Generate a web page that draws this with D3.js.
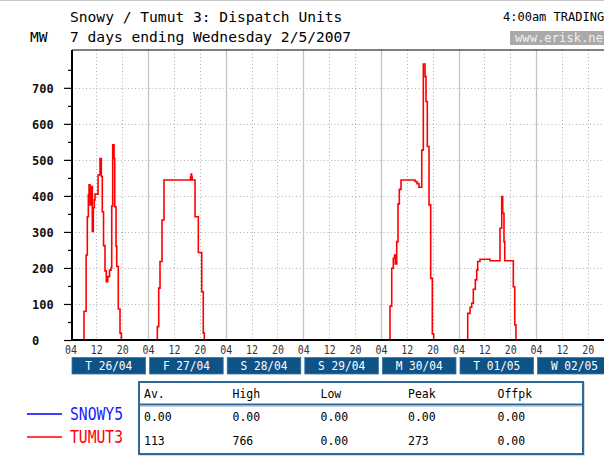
<!DOCTYPE html>
<html>
<head>
<meta charset="utf-8">
<script src="https://cdn.jsdelivr.net/npm/d3@7"></script>
<style>
  body { margin: 0; background: #fff; }
  svg { display: block; }
  text { font-family: "DejaVu Sans Mono", monospace; }
</style>
</head>
<body>
<svg width="604" height="460"></svg>
<script>
// half-hourly-ish dispatch readings, MW
const tumut3 = [
  ['26/04 04:00', 0],
  ['26/04 08:11', 80], ['26/04 08:50', 236], ['26/04 09:12', 342], ['26/04 09:31', 403],
  ['26/04 09:44', 431], ['26/04 10:02', 375], ['26/04 10:15', 420], ['26/04 10:33', 426],
  ['26/04 10:45', 301], ['26/04 11:03', 367], ['26/04 11:22', 389], ['26/04 11:35', 405],
  ['26/04 12:31', 458], ['26/04 13:08', 504], ['26/04 13:32', 454], ['26/04 13:50', 356],
  ['26/04 14:13', 262], ['26/04 14:40', 192], ['26/04 15:04', 162], ['26/04 15:32', 176],
  ['26/04 16:04', 194], ['26/04 16:32', 200], ['26/04 16:45', 372], ['26/04 17:03', 542],
  ['26/04 17:28', 504], ['26/04 17:41', 370], ['26/04 18:05', 260], ['26/04 18:18', 204],
  ['26/04 18:47', 86], ['26/04 19:19', 19], ['26/04 19:43', 0],
  ['27/04 06:51', 37], ['27/04 07:17', 144], ['27/04 07:41', 218], ['27/04 08:18', 333],
  ['27/04 08:55', 444], ['27/04 17:08', 452], ['27/04 17:18', 461], ['27/04 17:28', 452],
  ['27/04 17:38', 444], ['27/04 18:31', 342], ['27/04 19:32', 243], ['27/04 20:35', 134],
  ['27/04 21:04', 19], ['27/04 21:23', 0],
  ['30/04 06:49', 94], ['30/04 07:21', 199], ['30/04 07:50', 227], ['30/04 08:13', 236],
  ['30/04 08:27', 211], ['30/04 08:53', 273], ['30/04 09:18', 378], ['30/04 09:42', 418],
  ['30/04 10:13', 444], ['30/04 14:33', 440], ['30/04 15:10', 434], ['30/04 15:46', 424],
  ['30/04 16:38', 527], ['30/04 17:07', 766], ['30/04 17:39', 731], ['30/04 17:57', 662],
  ['30/04 18:21', 537], ['30/04 18:53', 375], ['30/04 19:24', 171], ['30/04 19:54', 17],
  ['30/04 20:20', 0],
  ['01/05 06:51', 74], ['01/05 07:34', 91], ['01/05 08:05', 102], ['01/05 08:35', 141],
  ['01/05 09:12', 167], ['01/05 09:38', 194], ['01/05 09:56', 218], ['01/05 10:39', 224],
  ['01/05 13:45', 220], ['01/05 16:50', 310], ['01/05 17:22', 398], ['01/05 17:40', 352],
  ['01/05 18:04', 273], ['01/05 18:18', 220], ['01/05 20:57', 148], ['01/05 21:24', 42],
  ['01/05 21:46', 0],
  ['03/05 04:00', 0],
];
const snowy5 = [['26/04 04:00', 0], ['03/05 04:00', 0]];

const dayLabels = ['T 26/04', 'F 27/04', 'S 28/04', 'S 29/04', 'M 30/04', 'T 01/05', 'W 02/05'];
const hourTicks = ['04', '12', '20'];
const yMajor = [0, 100, 200, 300, 400, 500, 600, 700];
const yMinor = [50, 150, 250, 350, 450, 550, 650, 750];

const statHeaders = ['Av.', 'High', 'Low', 'Peak', 'Offpk'];
const snowy5Stats = ['0.00', '0.00', '0.00', '0.00', '0.00'];
const tumut3Stats = ['113', '766', '0.00', '273', '0.00'];

const parse = d3.utcParse('%d/%m/%Y %H:%M');
const t = (s) => parse(s.replace(' ', '/2007 '));

const svg = d3.select('svg');
const plotL = 72;
const plotT = 50;
const plotB = 340;
const dayW = 77.6;
const x0 = 70.5;

const x = d3.scaleUtc()
  .domain([t('26/04 04:00'), t('03/05 04:00')])
  .range([x0, x0 + 7 * dayW]);
const y = d3.scaleLinear().domain([0, 805]).range([plotB, plotT]);

const days = d3.range(7).map((i) => d3.utcDay.offset(t('26/04 04:00'), i));

// top border of the image
svg.append('line')
  .attr('x1', 0).attr('x2', 604).attr('y1', 0.5).attr('y2', 0.5)
  .attr('stroke', '#c8c8c8');

// titles
svg.append('text').attr('x', 70).attr('y', 21.5)
  .attr('font-size', 14.6).text('Snowy / Tumut 3: Dispatch Units');
svg.append('text').attr('x', 70).attr('y', 41.5)
  .attr('font-size', 14.6).text('7 days ending Wednesday 2/5/2007');
svg.append('text').attr('x', 30).attr('y', 41.5)
  .attr('font-size', 14.6).text('MW');
svg.append('text').attr('x', 503).attr('y', 21)
  .attr('font-size', 12).text('4:00am TRADING');
svg.append('rect').attr('x', 510).attr('y', 31).attr('width', 100).attr('height', 14)
  .attr('fill', '#aaaaaa');
svg.append('text').attr('x', 515).attr('y', 42)
  .attr('font-size', 12.2).attr('fill', '#f0f0f0').text('www.erisk.net');

// grid
const grid = svg.append('g');
grid.selectAll('.hgrid')
  .data(yMajor.slice(1))
  .enter()
  .append('line')
  .attr('x1', plotL).attr('x2', 604)
  .attr('y1', (d) => Math.round(y(d)) + 0.5).attr('y2', (d) => Math.round(y(d)) + 0.5)
  .attr('stroke', '#b0b0b0')
  .attr('stroke-dasharray', '1,2.5');

const hourLines = [];
days.forEach((d) => {
  hourLines.push(d3.utcHour.offset(d, 8), d3.utcHour.offset(d, 16));
});
grid.selectAll('.vgrid')
  .data(hourLines)
  .enter()
  .append('line')
  .attr('x1', (d) => Math.round(x(d)) + 0.5).attr('x2', (d) => Math.round(x(d)) + 0.5)
  .attr('y1', plotT).attr('y2', plotB)
  .attr('stroke', '#b0b0b0')
  .attr('stroke-dasharray', '1,2.5');

grid.selectAll('.dayline')
  .data(days.slice(1))
  .enter()
  .append('line')
  .attr('x1', (d) => Math.round(x(d)) + 0.5).attr('x2', (d) => Math.round(x(d)) + 0.5)
  .attr('y1', plotT).attr('y2', plotB)
  .attr('stroke', '#c4c4c4')
  .attr('stroke-width', 1.3);

// series
const line = d3.line()
  .x((d) => x(t(d[0])))
  .y((d) => y(d[1]))
  .curve(d3.curveStepAfter);

svg.append('clipPath').attr('id', 'plotClip')
  .append('rect').attr('x', plotL).attr('y', plotT - 5)
  .attr('width', 604 - plotL).attr('height', plotB - plotT + 10);

const series = svg.append('g').attr('clip-path', 'url(#plotClip)');
series.append('path')
  .datum(snowy5)
  .attr('d', line)
  .attr('fill', 'none')
  .attr('stroke', '#0000ff')
  .attr('stroke-width', 1.5);
series.append('path')
  .datum(tumut3)
  .attr('d', line)
  .attr('fill', 'none')
  .attr('stroke', '#ff0000')
  .attr('stroke-width', 1.6);

// frame / axes
svg.append('line')
  .attr('x1', plotL).attr('x2', 604).attr('y1', plotT).attr('y2', plotT)
  .attr('stroke', '#000').attr('stroke-width', 1.2);
svg.append('line')
  .attr('x1', plotL).attr('x2', 604).attr('y1', plotB).attr('y2', plotB)
  .attr('stroke', '#000').attr('stroke-width', 2);
svg.append('line')
  .attr('x1', plotL).attr('x2', plotL).attr('y1', plotT).attr('y2', plotB + 1)
  .attr('stroke', '#000').attr('stroke-width', 2);

const yAxis = svg.append('g')
  .attr('transform', `translate(${plotL},0)`)
  .call(d3.axisLeft(y).tickValues(yMajor).tickSize(8).tickSizeOuter(0));
yAxis.select('.domain').remove();
yAxis.selectAll('.tick line').attr('stroke', '#000').attr('stroke-width', 1.2);
yAxis.selectAll('.tick text')
  .attr('x', 32 - plotL)
  .attr('dy', '0.35em')
  .attr('text-anchor', 'start')
  .attr('font-family', '"DejaVu Sans Mono", monospace')
  .attr('font-weight', 'bold')
  .attr('font-size', 12)
  .attr('fill', '#111');

svg.append('g')
  .attr('transform', `translate(${plotL},0)`)
  .call(d3.axisLeft(y).tickValues(yMinor).tickSize(4).tickFormat(''))
  .call((g) => g.select('.domain').remove())
  .selectAll('.tick line')
  .attr('stroke', '#000')
  .attr('stroke-width', 1.2);

// hour labels under the axis
const hourLabelData = [];
days.forEach((d) => {
  hourTicks.forEach((h, i) => hourLabelData.push({ time: d3.utcHour.offset(d, i * 8), label: h }));
});
svg.selectAll('.hourLabel')
  .data(hourLabelData)
  .enter()
  .append('text')
  .attr('x', (d) => x(d.time) + 0.5)
  .attr('y', 354)
  .attr('text-anchor', 'middle')
  .attr('font-size', 12)
  .attr('fill', '#333')
  .attr('textLength', 12)
  .attr('lengthAdjust', 'spacingAndGlyphs')
  .text((d) => d.label);

// day boxes
const dayBox = svg.selectAll('.dayBox')
  .data(days)
  .enter()
  .append('g');
dayBox.append('rect')
  .attr('x', (d) => x(d) + 1.5)
  .attr('y', 357.5)
  .attr('width', dayW - 4)
  .attr('height', 16.5)
  .attr('fill', '#0f5286')
  .attr('stroke', '#3d76a6')
  .attr('stroke-width', 0.8);
dayBox.append('text')
  .attr('x', (d) => x(d) + 1.5 + (dayW - 4) / 2)
  .attr('y', 370)
  .attr('text-anchor', 'middle')
  .attr('font-size', 12)
  .attr('fill', '#fff')
  .attr('textLength', 47)
  .attr('lengthAdjust', 'spacingAndGlyphs')
  .text((d, i) => dayLabels[i]);

// stats table
const colX = [144, 232.5, 320.5, 408, 497.5];
svg.append('rect')
  .attr('x', 140).attr('y', 383).attr('width', 444).attr('height', 72)
  .attr('fill', 'none').attr('stroke', '#d0d0d0').attr('stroke-width', 1.5);
svg.append('rect')
  .attr('x', 139).attr('y', 382).attr('width', 444).attr('height', 72)
  .attr('fill', '#fff').attr('stroke', '#2e6898').attr('stroke-width', 2);
svg.append('line')
  .attr('x1', 139).attr('x2', 583).attr('y1', 404.5).attr('y2', 404.5)
  .attr('stroke', '#2e6898').attr('stroke-width', 2);
svg.append('line')
  .attr('x1', 140).attr('x2', 582).attr('y1', 406.5).attr('y2', 406.5)
  .attr('stroke', '#c8d4e0').attr('stroke-width', 1);

const rows = [
  { cells: statHeaders, y: 394 },
  { cells: snowy5Stats, y: 416.5 },
  { cells: tumut3Stats, y: 441 },
];
rows.forEach((row) => {
  svg.selectAll(null)
    .data(row.cells)
    .enter()
    .append('text')
    .attr('x', (d, i) => colX[i])
    .attr('y', row.y)
    .attr('dy', '0.35em')
    .attr('font-size', 11.5)
    .attr('fill', '#000')
    .text((d) => d);
});

// legend
const legend = [
  { name: 'SNOWY5', color: '#0000ff', text: '#1a1aff', y: 414 },
  { name: 'TUMUT3', color: '#ff0000', text: '#ff0000', y: 437 },
];
const lg = svg.selectAll('.legend')
  .data(legend)
  .enter()
  .append('g');
lg.append('line')
  .attr('x1', 27).attr('x2', 62)
  .attr('y1', (d) => d.y).attr('y2', (d) => d.y)
  .attr('stroke', (d) => d.color)
  .attr('stroke-width', 1.3);
lg.append('text')
  .attr('x', 70)
  .attr('y', (d) => d.y)
  .attr('dy', '0.36em')
  .attr('font-size', 17)
  .attr('fill', (d) => d.text)
  .attr('textLength', 53)
  .attr('lengthAdjust', 'spacingAndGlyphs')
  .text((d) => d.name);
</script>
</body>
</html>
